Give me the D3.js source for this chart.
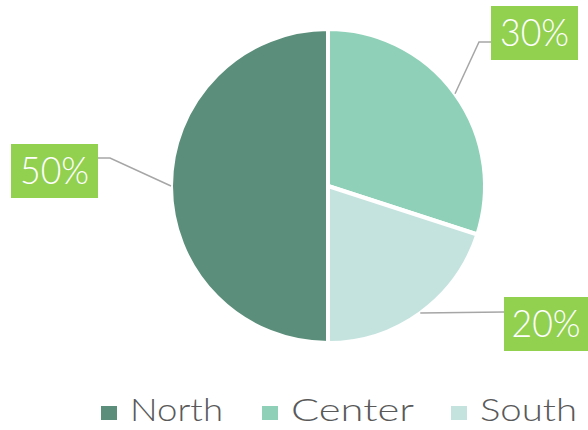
<!DOCTYPE html>
<html>
<head>
<meta charset="utf-8">
<script src="https://cdn.jsdelivr.net/npm/d3@7"></script>
<style>
  body { margin: 0; background: #fff; }
  svg { display: block; }
</style>
</head>
<body>
<svg></svg>
<script>
const categories = ["North", "Center", "South"];
const values = [50, 30, 20];
const colors = ["#5b8f7b", "#8fd0b8", "#c4e3de"];

const width = 588, height = 430;
const svg = d3.select("svg").attr("width", width).attr("height", height);

const cx = 328, cy = 186, r = 157;

// Center first (starts at 12 o'clock), then South, then North
const order = ["Center", "South", "North"];
const pie = d3.pie()
  .sort(null)
  .value(d => d.value);
const data = order.map(c => {
  const i = categories.indexOf(c);
  return {name: c, value: values[i], color: colors[i]};
});
const arcs = pie(data);
const arc = d3.arc().innerRadius(0).outerRadius(r);

const g = svg.append("g").attr("transform", `translate(${cx},${cy})`);

g.selectAll("path.slice")
  .data(arcs)
  .join("path")
  .attr("class", "slice")
  .attr("d", arc)
  .attr("fill", d => d.data.color)
  .attr("stroke", "#fff")
  .attr("stroke-width", 4)
  .attr("stroke-linejoin", "round");

// label boxes
const total = d3.sum(values);
const labelBoxes = {
  Center: {x: 491, y: 6, w: 87, h: 54, elbowX: 479, ly: 42, side: "left"},
  North:  {x: 11, y: 144, w: 87, h: 54, elbowX: 110, ly: 158, side: "right"},
  South:  {x: 504, y: 297, w: 84, h: 54, elbowX: 504, ly: 312, side: "left"}
};

arcs.forEach(a => {
  const b = labelBoxes[a.data.name];
  const mid = (a.startAngle + a.endAngle) / 2;
  const px = cx + r * Math.sin(mid);
  const py = cy - r * Math.cos(mid);
  const bx = b.side === "left" ? b.x : b.x + b.w;
  svg.append("polyline")
    .attr("points", [[px, py], [b.elbowX, b.ly], [bx, b.ly]].map(p => p.join(",")).join(" "))
    .attr("fill", "none")
    .attr("stroke", "#a6a6a6")
    .attr("stroke-width", 1.5);
  svg.append("rect")
    .attr("x", b.x).attr("y", b.y)
    .attr("width", b.w).attr("height", b.h)
    .attr("fill", "#92d050");
  svg.append("text")
    .attr("x", b.x + b.w / 2)
    .attr("y", b.y + b.h / 2 + 13)
    .attr("text-anchor", "middle")
    .attr("fill", "#fff")
    .attr("font-family", "Lato, 'Open Sans', sans-serif")
    .attr("font-weight", 300)
    .attr("font-size", 37)
    .attr("textLength", 69)
    .attr("lengthAdjust", "spacingAndGlyphs")
    .text(Math.round(a.data.value / total * 100) + "%");
});

// legend
const legend = svg.append("g");
const legendX = [101, 262, 451];
const legendW = [93, 123, 97];
categories.forEach((c, i) => {
  legend.append("rect")
    .attr("x", legendX[i]).attr("y", 406)
    .attr("width", 16).attr("height", 14)
    .attr("fill", colors[i]);
  legend.append("text")
    .attr("x", legendX[i] + 29)
    .attr("y", 421)
    .attr("fill", "#595959")
    .attr("font-family", "Lato, 'Open Sans', sans-serif")
    .attr("font-weight", 300)
    .attr("font-size", 31)
    .attr("textLength", legendW[i])
    .attr("lengthAdjust", "spacingAndGlyphs")
    .text(c);
});
</script>
</body>
</html>
